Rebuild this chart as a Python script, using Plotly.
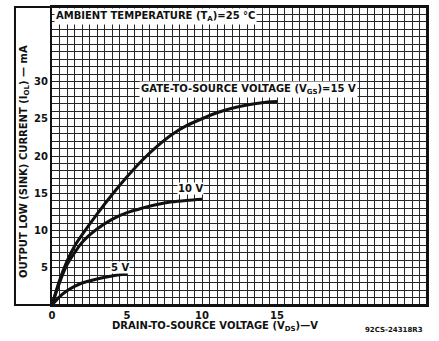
import plotly.graph_objects as go

# Drain-to-source voltage (V) and output low (sink) current (mA) per gate voltage
vds_15 = [0, 0.5, 1, 1.5, 2, 3, 4, 5, 6, 7, 8, 9, 10, 11, 12, 13, 14, 15]
iol_15 = [0, 3.3, 5.9, 7.9, 9.4, 12.2, 14.8, 17.2, 19.4, 21.3, 22.9, 24.1, 25.0, 25.8, 26.4, 26.85, 27.15, 27.3]

vds_10 = [0, 0.5, 1, 1.5, 2, 3, 4, 5, 6, 7, 8, 9, 10]
iol_10 = [0, 3.0, 5.4, 7.0, 8.4, 10.2, 11.5, 12.4, 13.0, 13.5, 13.85, 14.05, 14.2]

vds_5 = [0, 0.5, 1, 1.5, 2, 3, 4, 5]
iol_5 = [0, 1.1, 1.9, 2.5, 2.95, 3.5, 3.9, 4.2]

x_ticks = [0, 5, 10, 15]
y_ticks = [5, 10, 15, 20, 25, 30]

X_MAX, Y_MAX = 25, 40
X_GRID_STEP, Y_GRID_STEP = 0.5, 1

FONT = "DejaVu Sans"
INK = "#111111"

x_grid = [i * X_GRID_STEP for i in range(int(X_MAX / X_GRID_STEP) + 1)]
y_grid = [i * Y_GRID_STEP for i in range(int(Y_MAX / Y_GRID_STEP) + 1)]
x_text = [(f"{v:g}" if v in x_ticks else "") for v in x_grid]
y_text = [(f"{v:g}" if v in y_ticks else "") for v in y_grid]

fig = go.Figure()
for xs, ys in [(vds_15, iol_15), (vds_10, iol_10), (vds_5, iol_5)]:
    fig.add_trace(go.Scatter(x=xs, y=ys, mode="lines",
                             line=dict(color=INK, width=3, shape="spline", smoothing=0.8),
                             hoverinfo="skip", showlegend=False))

bold = dict(family=FONT, size=10, color=INK, weight="bold")

fig.update_layout(
    width=439, height=341,
    margin=dict(l=52, r=12, t=5, b=36),
    paper_bgcolor="white", plot_bgcolor="white",
    font=dict(family=FONT, size=10, color=INK),
    xaxis=dict(range=[0, X_MAX], tickmode="array", tickvals=x_grid, ticktext=x_text,
               showgrid=True, gridcolor="#262626", gridwidth=1,
               showline=True, linecolor=INK, linewidth=2, mirror=True,
               ticks="", zeroline=False, tickfont=bold),
    yaxis=dict(range=[0, Y_MAX], tickmode="array", tickvals=y_grid, ticktext=y_text,
               showgrid=True, gridcolor="#262626", gridwidth=1,
               showline=True, linecolor=INK, linewidth=2, mirror=True,
               ticks="", zeroline=False, tickfont=bold),
)

# Outer frame enclosing the y-axis title strip
fig.add_shape(type="rect", xref="paper", yref="paper", x0=-0.0987, x1=1, y0=0, y1=1,
              line=dict(color=INK, width=2), fillcolor="rgba(0,0,0,0)", layer="above")

fig.add_annotation(x=0.005, y=0.995, xref="paper", yref="paper", xanchor="left", yanchor="top",
                   text="AMBIENT TEMPERATURE (T<sub>A</sub>)=25 °C", showarrow=False,
                   bgcolor="white", font=bold, borderpad=1)
fig.add_annotation(x=13.1, y=28.9, text="GATE-TO-SOURCE VOLTAGE (V<sub>GS</sub>)=15 V",
                   showarrow=False, bgcolor="white", font=bold, borderpad=1)
fig.add_annotation(x=9.2, y=15.6, text="10 V", showarrow=False, bgcolor="white",
                   font=bold, borderpad=0)
fig.add_annotation(x=4.5, y=5.0, text="5 V", showarrow=False, bgcolor="white",
                   font=bold, borderpad=0)

fig.add_annotation(x=-0.072, y=0.48, xref="paper", yref="paper", xanchor="center",
                   yanchor="middle", textangle=-90,
                   text="OUTPUT LOW (SINK) CURRENT (I<sub>OL</sub>) — mA",
                   showarrow=False, font=bold)
fig.add_annotation(x=0.435, y=-0.072, xref="paper", yref="paper", yanchor="middle",
                   text="DRAIN-TO-SOURCE VOLTAGE (V<sub>DS</sub>)—V",
                   showarrow=False, font=bold)
fig.add_annotation(x=0.995, y=-0.085, xref="paper", yref="paper", xanchor="right", yanchor="middle",
                   text="92CS-24318R3", showarrow=False,
                   font=dict(family=FONT, size=7, color=INK, weight="bold"))

fig.write_html("out.html", config={"displayModeBar": False},
               post_script="document.body.style.margin='0px';")
